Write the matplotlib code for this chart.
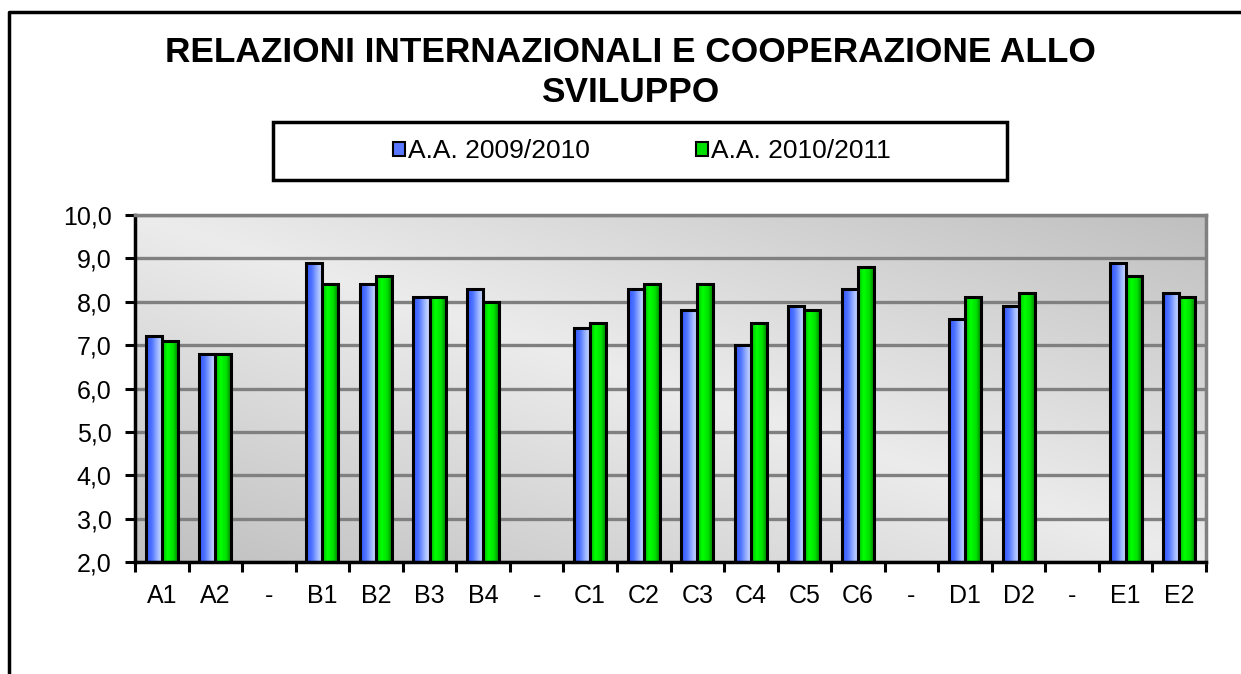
import numpy as np
import matplotlib
matplotlib.use("Agg")
import matplotlib.pyplot as plt
from matplotlib.colors import LinearSegmentedColormap
from matplotlib.patches import Rectangle
from matplotlib.lines import Line2D

plt.rcParams['font.family'] = ['Liberation Sans', 'DejaVu Sans']

# dati
categorie = ["A1", "A2", "-", "B1", "B2", "B3", "B4", "-", "C1", "C2", "C3",
             "C4", "C5", "C6", "-", "D1", "D2", "-", "E1", "E2"]
nan = np.nan
aa_0910 = [7.2, 6.8, nan, 8.9, 8.4, 8.1, 8.3, nan, 7.4, 8.3, 7.8, 7.0, 7.9,
           8.3, nan, 7.6, 7.9, nan, 8.9, 8.2]
aa_1011 = [7.1, 6.8, nan, 8.4, 8.6, 8.1, 8.0, nan, 7.5, 8.4, 8.4, 7.5, 7.8,
           8.8, nan, 8.1, 8.2, nan, 8.6, 8.1]
serie = ["A.A. 2009/2010", "A.A. 2010/2011"]
yticks = [2, 3, 4, 5, 6, 7, 8, 9, 10]

W, H = 1241, 674
fig = plt.figure(figsize=(W / 100, H / 100), dpi=100)
ax = fig.add_axes([135 / W, 1 - 562 / H, (1206 - 135) / W, (562 - 215) / H])

# sfondo grigio sfumato
n = 200
u = np.linspace(0, 1, n)[None, :]
v = np.linspace(1, 0, n)[:, None]
s = (u + v) / 2
grey = 0.75 + (0.925 - 0.75) * (1 - np.abs(2 * s - 1))
bg = np.dstack([grey, grey, grey])
ax.imshow(bg, extent=(0, 1, 0, 1), transform=ax.transAxes, aspect='auto',
          zorder=0, interpolation='bilinear')

cmap_blu = LinearSegmentedColormap.from_list(
    'blu', [(0.2, 0.33, 1.0), (0.3, 0.45, 1.0), (0.6, 0.7, 1.0), (0.85, 0.89, 1.0)])
cmap_verde = LinearSegmentedColormap.from_list(
    'verde', [(0.0, 0.75, 0.0), (0.0, 1.0, 0.0), (0.0, 0.88, 0.0), (0.0, 0.45, 0.0)])

x = np.arange(len(categorie))
w = 0.3
grad = np.linspace(0, 1, 64)[None, :]
for vals, off, cm in [(aa_0910, -w / 2, cmap_blu), (aa_1011, w / 2, cmap_verde)]:
    h = [vv - 2 if not np.isnan(vv) else nan for vv in vals]
    bars = ax.bar(x + off, h, w, bottom=2, facecolor='none', edgecolor='black',
                  linewidth=2.2, zorder=3)
    for b, vv in zip(bars, vals):
        if np.isnan(vv):
            continue
        x0 = b.get_x()
        im = ax.imshow(grad, cmap=cm, extent=(x0, x0 + w, 2, vv), aspect='auto',
                       zorder=2, interpolation='bilinear')
        im.set_clip_path(b)

ax.set_xlim(-0.5, len(categorie) - 0.5)
ax.set_ylim(2, 10)

ax.set_axisbelow(True)
ax.yaxis.grid(True, color='#808080', linewidth=2.4)
ax.set_yticks(yticks)
ax.set_yticklabels([f"{t:.1f}".replace('.', ',') for t in yticks])
ax.set_xticks(x)
ax.set_xticklabels(categorie)
ax.set_xticks(np.arange(len(categorie) + 1) - 0.5, minor=True)
ax.tick_params(axis='x', which='major', length=0, pad=16, labelsize=18)
ax.tick_params(axis='x', which='minor', length=7, width=2.2, direction='out')
ax.tick_params(axis='y', length=7, width=2.2, pad=10, labelsize=18)

for sp in ['left', 'bottom']:
    ax.spines[sp].set_color('black')
    ax.spines[sp].set_linewidth(2.5)
for sp in ['top', 'right']:
    ax.spines[sp].set_color('#808080')
    ax.spines[sp].set_linewidth(2.5)

# titolo
fig.text(630 / W, 1 - 52 / H, "RELAZIONI INTERNAZIONALI E COOPERAZIONE ALLO",
         ha='center', va='center', fontsize=25.4, fontweight='bold')
fig.text(630 / W, 1 - 92 / H, "SVILUPPO", ha='center', va='center',
         fontsize=25.4, fontweight='bold')

# legenda
fig.patches.append(Rectangle((273 / W, 1 - 180 / H), (1007 - 273) / W, 58 / H,
                             transform=fig.transFigure, facecolor='white',
                             edgecolor='black', linewidth=2.5, zorder=1))
handles = [Rectangle((0, 0), 1, 1, facecolor='#5a78ff', edgecolor='black', linewidth=1.5),
           Rectangle((0, 0), 1, 1, facecolor='#00e000', edgecolor='black', linewidth=1.5)]
fig.legend(handles, serie, loc='center', bbox_to_anchor=(642 / W, 1 - 151 / H),
           ncol=2, frameon=False, fontsize=19, handlelength=0.45, handleheight=0.45,
           handletextpad=0.12, columnspacing=4.0)

# cornice esterna
fig.add_artist(Line2D([9 / W, 9 / W, 1.01], [-0.01, 1 - 12 / H, 1 - 12 / H],
                      transform=fig.transFigure, color='black', linewidth=2.5))

fig.savefig("out.png", dpi=100)
